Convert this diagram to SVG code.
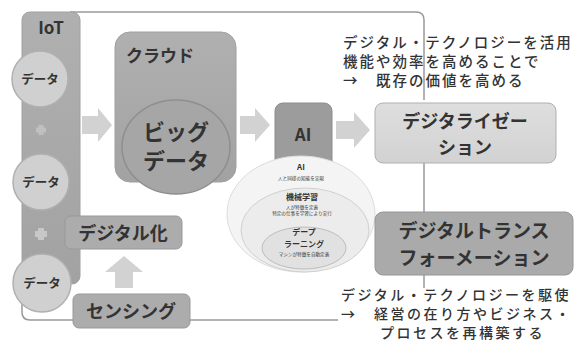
<svg xmlns="http://www.w3.org/2000/svg" width="576" height="342" viewBox="0 0 576 342">
<style>
text{font-family:"Noto Sans CJK JP","Noto Sans",sans-serif;fill:#333;text-anchor:middle}
.b{font-weight:bold}
.line{fill:none;stroke:#999;stroke-width:1.5}
.arrow{fill:#d2d2d2}
.data{fill:#d0d0d0;stroke:#b0b0b0;stroke-width:1.5}
.note{font-size:14.5px;text-anchor:start;font-weight:500;letter-spacing:2px}
.note2{font-size:14px;text-anchor:start;font-weight:500;letter-spacing:2.5px}
.small{font-size:4.6px}
.mid{font-size:8px;font-weight:bold}
</style>
<defs>
<linearGradient id="gDark" x1="0" y1="0" x2="0" y2="1"><stop offset="0" stop-color="#b0b0b0"/><stop offset="1" stop-color="#a2a2a2"/></linearGradient>
<linearGradient id="gLight" x1="0" y1="0" x2="0" y2="1"><stop offset="0" stop-color="#dedede"/><stop offset="1" stop-color="#d2d2d2"/></linearGradient>
</defs>
<rect width="576" height="342" fill="#fff"/>
<g id="connectors">
<path class="line" d="M70 12 H416 Q424 12 424 20 V100"/>
<path class="line" d="M424 163 V212"/>
<path class="line" d="M424 275 V288"/>
<path class="line" d="M22 300 V312 Q22 320 30 320 H338"/>
<polygon class="arrow" points="82,116 98,116 98,108 112,125 98,142 98,134 82,134"/>
<polygon class="arrow" points="240,116 255,116 255,108 270,125 255,142 255,134 240,134"/>
<polygon class="arrow" points="336,121 354,121 354,112 370,130 354,148 354,139 336,139"/>
<polygon class="arrow" points="115,288 115,272 105,272 124,256 143,272 133,272 133,288"/>
</g>
<g id="iot">
<rect x="22" y="12" width="58" height="272" rx="8" fill="url(#gDark)" stroke="#a0a0a0"/>
<text class="b" x="51" y="34" font-size="17">IoT</text>
<path d="M36 130 H46 M41 125 V135" stroke="#c0c0c0" stroke-width="5"/>
<path d="M35 234 H47 M41 228 V240" stroke="#c8c8c8" stroke-width="6"/>
</g>
<g id="data1"><circle class="data" cx="40" cy="79" r="28"/><text class="b" x="40" y="84" font-size="12.5">データ</text></g>
<g id="data2"><circle class="data" cx="41" cy="182" r="28"/><text class="b" x="41" y="187" font-size="12.5">データ</text></g>
<g id="data3"><circle class="data" cx="42" cy="283" r="29"/><text class="b" x="42" y="288" font-size="12.5">データ</text></g>
<g id="cloud">
<rect x="115" y="32" width="121" height="150" rx="15" fill="url(#gDark)" stroke="#a0a0a0"/>
<text class="b" x="160" y="62" font-size="17">クラウド</text>
</g>
<g id="bigdata">
<ellipse cx="176" cy="147" rx="54" ry="47" fill="#a6a6a6" stroke="#8e8e8e" stroke-width="1.5"/>
<text class="b" x="176" y="140" font-size="22">ビッグ</text>
<text class="b" x="176" y="169" font-size="22">データ</text>
</g>
<g id="ai">
<rect x="275" y="103" width="57" height="70" rx="8" fill="#9c9c9c" stroke="#8c8c8c"/>
<text class="b" x="303" y="141" font-size="17">AI</text>
</g>
<g id="ai-layers">
<ellipse cx="301" cy="214" rx="74" ry="58" fill="#f4f4f4" stroke="#dcdcdc"/>
<ellipse cx="305" cy="230" rx="64" ry="42" fill="#ececec" stroke="#d0d0d0"/>
<ellipse cx="304" cy="248" rx="42" ry="21" fill="#e1e1e1" stroke="#bcbcbc"/>
<text class="mid" x="301" y="170">AI</text>
<text class="small" x="301" y="180">人と同様の知能を実現</text>
<text class="mid" x="302" y="200">機械学習</text>
<text class="small" x="302" y="209">人が特徴を定義</text>
<text class="small" x="302" y="215">特定の仕事を学習により実行</text>
<text class="mid" x="304" y="235">デープ</text>
<text class="mid" x="304" y="246.5">ラーニング</text>
<text class="small" x="304" y="255.5">マシンが特徴を自動定義</text>
</g>
<g id="digitization">
<rect x="375" y="103" width="181" height="60" rx="8" fill="url(#gLight)" stroke="#b0b0b0"/>
<text class="b" x="465" y="128" font-size="18">デジタライゼー</text>
<text class="b" x="465" y="154" font-size="18">ション</text>
</g>
<g id="dx">
<rect x="375" y="212" width="198" height="63" rx="8" fill="#aaaaaa" stroke="#969696"/>
<text class="b" x="474" y="238" font-size="19">デジタルトランス</text>
<text class="b" x="474" y="265" font-size="19">フォーメーション</text>
</g>
<g id="digitalize">
<rect x="65" y="216" width="117" height="33" rx="6" fill="#acacac" stroke="#999"/>
<text class="b" x="123" y="240" font-size="18">デジタル化</text>
</g>
<g id="sensing">
<rect x="73" y="294" width="117" height="34" rx="6" fill="#acacac" stroke="#999"/>
<text class="b" x="131" y="318" font-size="18">センシング</text>
</g>
<g id="notes">
<text class="note" x="343" y="48">デジタル・テクノロジーを活用</text>
<text class="note" x="343" y="67">機能や効率を高めることで</text>
<text class="note" x="343" y="86">→　既存の価値を高める</text>
<text class="note2" x="341" y="300">デジタル・テクノロジーを駆使</text>
<text class="note2" x="341" y="319">→　経営の在り方やビジネス・</text>
<text class="note2" x="380" y="338">プロセスを再構築する</text>
</g>
</svg>
